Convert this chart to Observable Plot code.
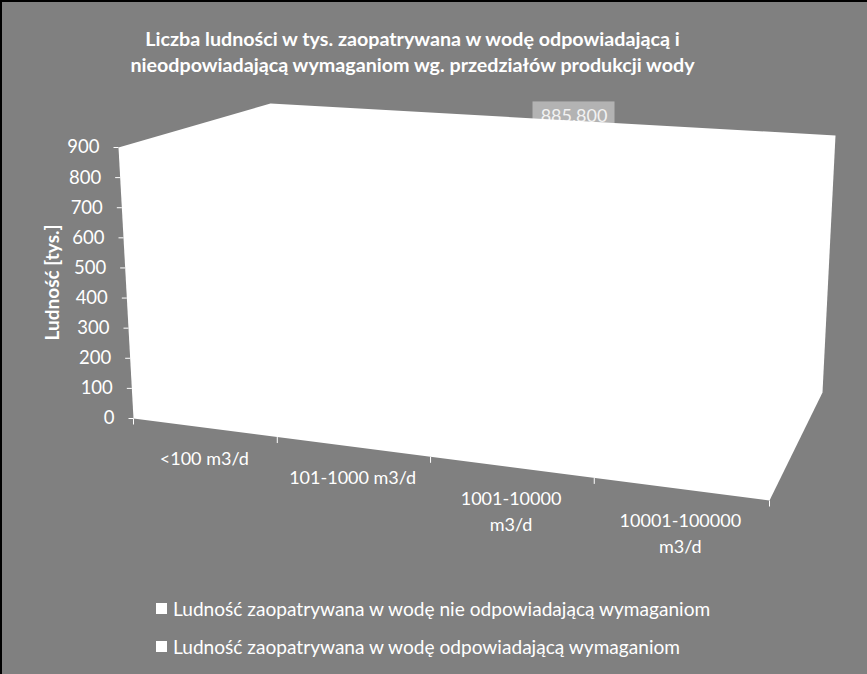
<!DOCTYPE html>
<html>
<head>
<meta charset="utf-8">
<script src="https://cdn.jsdelivr.net/npm/d3@7"></script>
<script src="https://cdn.jsdelivr.net/npm/@observablehq/plot@0.6"></script>
<style>
  html, body { margin: 0; padding: 0; background: #808080; }
  #chart {
    position: relative; width: 867px; height: 674px; background: #808080;
    box-shadow: inset 2px 2px 0 #000; overflow: hidden;
    font-family: Lato, "Open Sans", sans-serif; color: #fff;
  }
  #title {
    height: 85px; width: 825px; box-sizing: border-box; padding-top: 26px;
    text-align: center; font-weight: bold; font-size: 19.7px; line-height: 26px;
  }
  #plot { height: 500px; }
  #plot svg { display: block; }
  #legend { height: 89px; box-sizing: border-box; padding-top: 4px; padding-left: 156px; font-size: 19.1px; }
  .item { display: flex; align-items: center; height: 38px; }
  .sw { width: 11px; height: 11px; background: #fff; margin-right: 6px; }
</style>
</head>
<body>
<div id="chart">
  <div id="title">Liczba ludności w tys. zaopatrywana w wodę odpowiadającą i<br>nieodpowiadającą wymaganiom wg. przedziałów produkcji wody</div>
  <div id="plot"></div>
  <div id="legend"></div>
</div>
<script>
// ---- data ----
const categories = ["<100 m3/d", "101-1000 m3/d", "1001-10000 m3/d", "10001-100000 m3/d"];
const categoryLabels = ["<100 m3/d", "101-1000 m3/d", "1001-10000\nm3/d", "10001-100000\nm3/d"];
const seriesNames = [
  "Ludność zaopatrywana w wodę nie odpowiadającą wymaganiom",
  "Ludność zaopatrywana w wodę odpowiadającą wymaganiom"
];
// values in thousands (bars are white on the white walls; only the tallest label shows)
const nieOdpowiadajaca = [30, 55, 40, 15];
const odpowiadajaca = [300, 610, 885.8, 540];
const yTicks = [0, 100, 200, 300, 400, 500, 600, 700, 800, 900];
const yMax = 900;
const yTitle = "Ludność [tys.]";

// ---- 3-D projection (layout) ----
const corner = {
  F00: [133, 418], F40: [769, 500], F09: [118, 147], F49: [786, 188],
  B00: [275, 336], B40: [822, 392], B09: [270, 103], B49: [835, 135]
};
const perspK = 0.1236;
const rowDepth = [0.3, 0.65];
const barGap = 0.2, rowHalf = 0.15;
function warp(t) { return t * (1 - perspK) / (1 - perspK * t); }
function lerp(a, b, t) { return [a[0] + (b[0] - a[0]) * t, a[1] + (b[1] - a[1]) * t]; }
function proj(cat, value, depth) {
  const u = warp(cat / categories.length), v = value / yMax;
  const front = lerp(lerp(corner.F00, corner.F40, u), lerp(corner.F09, corner.F49, u), v);
  const back = lerp(lerp(corner.B00, corner.B40, u), lerp(corner.B09, corner.B49, u), v);
  const p = lerp(front, back, depth);
  return {x: p[0], y: p[1]};
}

// walls (left wall + back wall + floor silhouette)
const wall = [[0, yMax, 0], [0, yMax, 1], [4, yMax, 1], [4, 0, 1], [4, 0, 0], [0, 0, 0], [0, yMax, 0]]
  .map(([c, v, d]) => proj(c, v, d));

// bars
const bars = [];
[nieOdpowiadajaca, odpowiadajaca].forEach((vals, s) => {
  vals.forEach((val, i) => bars.push({s, i, value: val, series: seriesNames[s], category: categories[i]}));
});
const barPolys = [];
bars.forEach((b, k) => {
  const x0 = b.i + barGap, x1 = b.i + 1 - barGap;
  const d0 = rowDepth[b.s] - rowHalf, d1 = rowDepth[b.s] + rowHalf;
  const faces = [
    [[x0, 0, d0], [x1, 0, d0], [x1, b.value, d0], [x0, b.value, d0]],
    [[x0, b.value, d0], [x1, b.value, d0], [x1, b.value, d1], [x0, b.value, d1]],
    [[x1, 0, d0], [x1, 0, d1], [x1, b.value, d1], [x1, b.value, d0]]
  ];
  faces.forEach((f, j) => {
    f.concat([f[0]]).forEach(([c, v, d]) => barPolys.push({id: k * 3 + j, ...proj(c, v, d)}));
  });
});

// data labels
const labels = bars.map(b => {
  const p = proj(b.i + 0.5, b.value, rowDepth[b.s]);
  return {x: p.x, y: p.y - 28, text: d3.format(".3f")(b.value).replace(".", ",")};
});

const yTickPts = yTicks.map(t => ({t, ...proj(0, t, 0)}));
const xTickPts = d3.range(categories.length + 1).map(i => proj(i, 0, 0));
const catPts = categoryLabels.map((lab, i) => ({lab, ...proj(i + 0.5, 0, 0)}));
const yTitlePt = {x: 52, y: 282, text: yTitle};

const plot = Plot.plot({
  width: 867, height: 500, margin: 0,
  x: {type: "linear", domain: [0, 867], range: [0, 867], axis: null},
  y: {type: "linear", domain: [85, 585], range: [0, 500], axis: null},
  style: {background: "transparent", color: "#fff", fontFamily: "Lato, 'Open Sans', sans-serif", fontSize: "18px", overflow: "visible"},
  marks: [
    // data labels (drawn behind the walls)
    Plot.rect(labels, {x1: d => d.x - 41, x2: d => d.x + 41, y1: d => d.y - 14, y2: d => d.y + 14, fill: "#b3b3b3"}),
    Plot.text(labels, {x: "x", y: "y", text: "text", fill: "#f2f2f2", fontSize: 18}),
    // walls
    Plot.line(wall, {x: "x", y: "y", fill: "#fff", stroke: "none", curve: "linear-closed"}),
    // bars (white)
    Plot.line(barPolys, {x: "x", y: "y", z: "id", fill: "#fff", stroke: "none"}),
    // y axis ticks and labels
    Plot.link(yTickPts, {x1: d => d.x - 5, x2: "x", y1: "y", y2: "y", stroke: "#fff", strokeWidth: 1}),
    Plot.text(yTickPts, {x: "x", y: "y", text: d => String(d.t), textAnchor: "end", dx: -19, fill: "#fff", fontSize: 18.5}),
    Plot.text([yTitlePt], {x: "x", y: "y", text: "text", rotate: -90, fill: "#fff", fontWeight: "bold", fontSize: 19}),
    // x axis ticks and labels
    Plot.link(xTickPts, {x1: "x", x2: "x", y1: "y", y2: d => d.y + 6, stroke: "#fff", strokeWidth: 1}),
    Plot.text(catPts, {x: "x", y: "y", text: "lab", lineAnchor: "top", dy: 19, lineHeight: 1.45, fill: "#fff", fontSize: 18})
  ]
});
document.getElementById("plot").appendChild(plot);

// legend
const legend = d3.select("#legend");
seriesNames.forEach(n => {
  const it = legend.append("div").attr("class", "item");
  it.append("div").attr("class", "sw");
  it.append("span").text(n);
});
</script>
</body>
</html>
